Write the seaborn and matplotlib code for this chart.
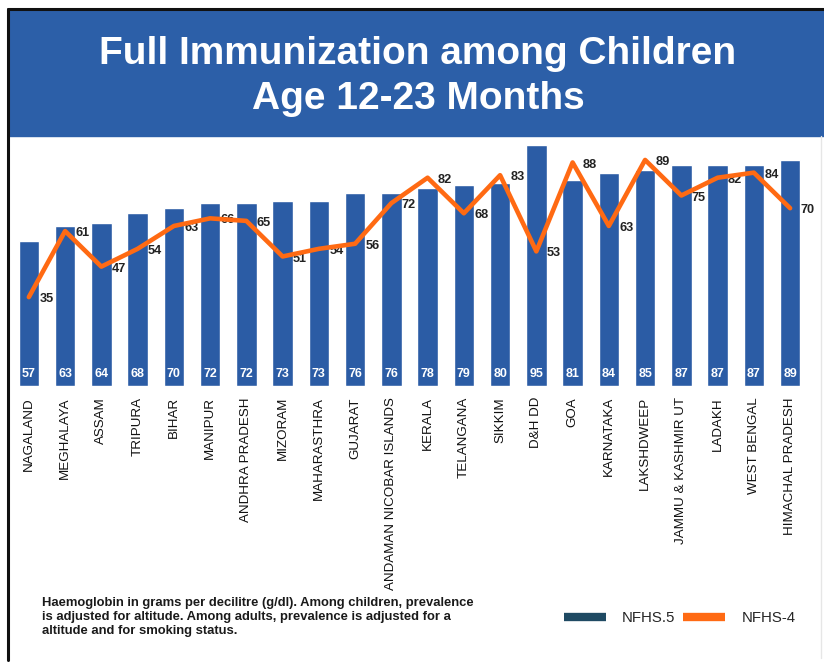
import numpy as np
import pandas as pd
import matplotlib
matplotlib.use("Agg")
import matplotlib.pyplot as plt
from matplotlib.patches import Rectangle
from matplotlib.lines import Line2D
import seaborn as sns

states = [
    "NAGALAND", "MEGHALAYA", "ASSAM", "TRIPURA", "BIHAR", "MANIPUR",
    "ANDHRA PRADESH", "MIZORAM", "MAHARASTHRA", "GUJARAT",
    "ANDAMAN NICOBAR ISLANDS", "KERALA", "TELANGANA", "SIKKIM", "D&H DD",
    "GOA", "KARNATAKA", "LAKSHDWEEP", "JAMMU & KASHMIR UT", "LADAKH",
    "WEST BENGAL", "HIMACHAL PRADESH",
]
nfhs5 = [57, 63, 64, 68, 70, 72, 72, 73, 73, 76, 76, 78, 79, 80, 95, 81,
         84, 85, 87, 87, 87, 89]
nfhs4 = [35, 61, 47, 54, 63, 66, 65, 51, 54, 56, 72, 82, 68, 83, 53, 88,
         63, 89, 75, 82, 84, 70]

title_lines = ["Full Immunization among Children", "Age 12-23 Months"]
note = ("Haemoglobin in grams per decilitre (g/dl). Among children, prevalence\n"
        "is adjusted for altitude. Among adults, prevalence is adjusted for a\n"
        "altitude and for smoking status.")
series_names = ["NFHS.5", "NFHS-4"]

BAR_BLUE = "#2B5CA5"
BANNER_BLUE = "#2C5FA8"
ORANGE = "#FF6A13"
LEGEND_DARK = "#1F4A63"

sns.set_style("white")
plt.rcParams["font.family"] = ["Liberation Sans", "DejaVu Sans"]

df = pd.DataFrame({"state": states, "nfhs5": nfhs5, "nfhs4": nfhs4})

W, H = 824, 663
fig = plt.figure(figsize=(W / 100, H / 100), dpi=100)
fig.patch.set_facecolor("white")

# plot area in pixel terms: x 10..822, y 140..386 (from top)
ax = fig.add_axes([10 / W, (H - 386) / H, (822 - 10) / W, (386 - 140) / H])
ax.set_facecolor("none")

sns.barplot(data=df, x="state", y="nfhs5", color=BAR_BLUE, saturation=1,
            width=0.57, ax=ax, zorder=2)
sns.lineplot(x=np.arange(len(states)), y=df["nfhs4"], color=ORANGE,
             linewidth=3.3, ax=ax, zorder=5)

ax.set_xlim(-0.52, len(states) - 1 + 0.88)
ax.set_ylim(0, 246 / 2.54)
ax.set_xlabel("")
ax.set_ylabel("")
ax.set_yticks([])
ax.tick_params(axis="x", length=0, pad=8)
ax.set_xticks(range(len(states)))
ax.set_xticklabels(states, rotation=90, fontsize=9.6, color="#111111")
for s in ax.spines.values():
    s.set_visible(False)

# values inside the bars
for i, v in enumerate(nfhs5):
    ax.annotate(str(v), (i, 0), xytext=(0, 8.5), textcoords="offset points",
                ha="center", va="center", color="white", fontsize=9,
                fontweight="bold", zorder=6)

# values next to the line points
for i, v in enumerate(nfhs4):
    ax.annotate(str(v), (i, v), xytext=(7.5, -1.5), textcoords="offset points",
                ha="left", va="center", color="#222222", fontsize=9.2,
                fontweight="bold", zorder=4)

# header banner and frame
fig.patches.append(Rectangle((9 / W, (H - 136) / H), 1 - 9 / W, 126 / H,
                             transform=fig.transFigure, color=BANNER_BLUE,
                             zorder=0))
fig.add_artist(Line2D([8 / W, 1], [(H - 9) / H] * 2, color="#111111",
                      lw=2.2, transform=fig.transFigure))
fig.add_artist(Line2D([8 / W, 8 / W], [(H - 9) / H, (H - 660) / H],
                      color="#111111", lw=2.2, transform=fig.transFigure))
fig.add_artist(Line2D([821 / W, 821 / W], [(H - 136) / H, (H - 658) / H],
                      color="#e6e6e6", lw=1, transform=fig.transFigure))

for k, line in enumerate(title_lines):
    fig.text(418 / W, 1 - (54 + 45 * k) / H, line, ha="center", va="center",
             color="white", fontsize=28, fontweight="bold")

fig.text(42 / W, 1 - 597 / H, note, ha="left", va="top", fontsize=9.4,
         fontweight="bold", color="#1a1a1a", linespacing=1.24)

handles = [Line2D([], [], color=LEGEND_DARK, lw=6, solid_capstyle="butt"),
           Line2D([], [], color=ORANGE, lw=6, solid_capstyle="butt")]
fig.legend(handles, series_names, loc="center left",
           bbox_to_anchor=(550 / W, 1 - 618 / H), ncol=2, frameon=False,
           handlelength=2.8, handletextpad=1.1, columnspacing=0.5,
           prop={"size": 10.8})

fig.savefig("out.png", dpi=100, facecolor="white")
